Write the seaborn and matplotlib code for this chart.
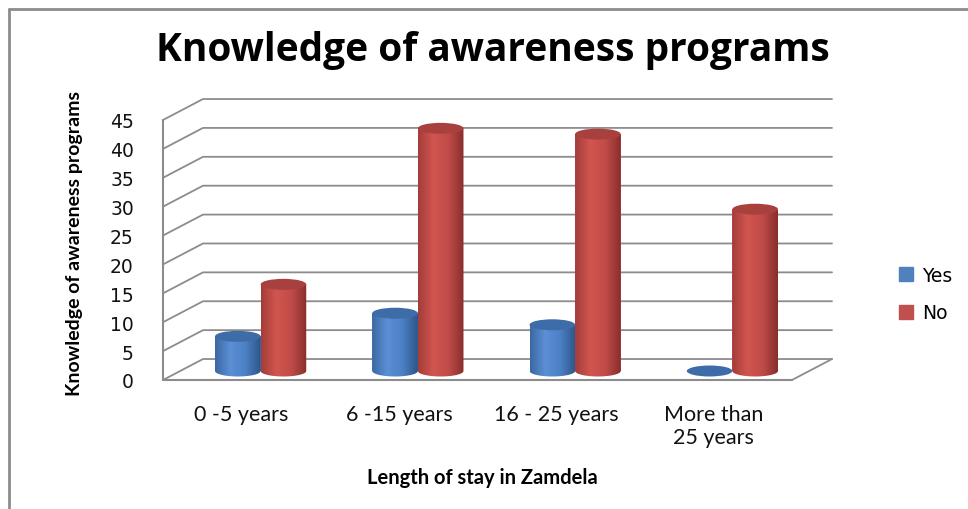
#!/usr/bin/env python3
"""
Knowledge of awareness programs by length of stay in Zamdela
(3D-cylinder look imitated on a flat seaborn barplot)
"""

import numpy as np
import pandas as pd
import matplotlib
matplotlib.use("Agg")
import matplotlib.pyplot as plt
import matplotlib.transforms as mtransforms
from matplotlib.colors import LinearSegmentedColormap
from matplotlib.patches import Ellipse, Polygon
import seaborn as sns

# Data
categories = ["0 -5 years", "6 -15 years", "16 - 25 years", "More than\n25 years"]
yes_values = [6, 10, 8, 0]
no_values = [15, 42, 41, 28]
series = ["Yes", "No"]

colors = {"Yes": "#4F81BD", "No": "#C0504D"}
cap_colors = {"Yes": "#3D6CA8", "No": "#A8413E"}
grad_stops = {
    "Yes": ["#3A68A2", "#5B8FD6", "#4C80C4", "#2C5588"],
    "No": ["#A23D3A", "#D2554F", "#C04B48", "#872E2C"],
}

sns.set_style("white")
plt.rcParams["text.color"] = "black"

df = pd.DataFrame({
    "stay": categories * 2,
    "answer": ["Yes"] * 4 + ["No"] * 4,
    "count": yes_values + no_values,
})

fig = plt.figure(figsize=(9.68, 5.10), dpi=100)
ax = fig.add_axes([163 / 968, 1 - 381 / 510, 629 / 968, 260 / 510])

sns.barplot(data=df, x="stay", y="count", hue="answer", hue_order=series,
            palette=colors, width=0.58, saturation=1, ax=ax, legend=False,
            linewidth=0, zorder=3)

ax.set_xlim(-0.5, 3.5)
ax.set_ylim(0, 45)

# 3D-ish depth offsets (wall behind plot)
grid_col = "#8C8C8C"
dx, dy = 0.2544, 3.63
for t in range(0, 50, 5):
    ax.plot([-0.5, -0.5 + dx, 3.5 + dx], [t, t + dy, t + dy], color=grid_col,
            lw=1.3, clip_on=False, zorder=1)
ax.plot([3.5, 3.5 + dx], [0, dy], color=grid_col, lw=1.3, clip_on=False, zorder=1)
ax.plot([-0.5, 3.5], [0, 0], color=grid_col, lw=1.5, clip_on=False, zorder=2)
ax.plot([-0.5, -0.5], [0, 45], color=grid_col, lw=1.5, clip_on=False, zorder=2)

for s in ax.spines.values():
    s.set_visible(False)

ax.set_yticks(range(0, 50, 5))
ax.tick_params(axis="y", length=7, width=1.3, color=grid_col, pad=14,
               labelsize=13.5, labelcolor="#111111")
ax.set_xticks(range(4))
ax.set_xticklabels(categories, fontfamily="Lato", fontsize=15.5, linespacing=1.2)
ax.set_xticks([-0.5, 0.5, 1.5, 2.5, 3.5], minor=True)
ax.tick_params(axis="x", which="major", length=0, pad=17, labelcolor="#111111")
ax.tick_params(axis="x", which="minor", length=7, width=1.3, color=grid_col)
ax.set_xlabel("")
ax.set_ylabel("")

# cylinders sit half-way into the depth
off = mtransforms.Affine2D().translate(19, 9)
trans = ax.transData + off
cap_h = 1.9

for container, name in zip(ax.containers, series):
    cmap = LinearSegmentedColormap.from_list(name, grad_stops[name])
    for bar in container:
        bar.set_transform(trans)
        x0, w, h = bar.get_x(), bar.get_width(), bar.get_height()
        cx = x0 + w / 2
        if h > 0:
            ang = np.linspace(0, np.pi, 30)
            bottom = np.column_stack([cx + w / 2 * np.cos(ang),
                                      -cap_h / 2 * np.sin(ang)])
            verts = np.vstack([[x0, h], [x0 + w, h], bottom])
            clip = Polygon(verts, closed=True, transform=trans,
                           facecolor="none", edgecolor="none")
            ax.add_patch(clip)
            im = ax.imshow(np.linspace(0, 1, 256)[None, :], cmap=cmap,
                           aspect="auto", extent=(x0, x0 + w, -cap_h, h),
                           transform=trans, zorder=4, interpolation="bilinear")
            im.set_clip_path(clip)
        cap = Ellipse((cx, h), w, cap_h, transform=trans,
                      facecolor=cap_colors[name], edgecolor="none", zorder=5)
        ax.add_patch(cap)

ax.set_xlim(-0.5, 3.5)
ax.set_ylim(0, 45)

# legend
handles = [plt.Rectangle((0, 0), 1, 1, color=colors[s]) for s in series]
fig.legend(handles, series, loc="center left",
           bbox_to_anchor=(886 / 968, 1 - 295 / 510), frameon=False,
           fontsize=13.5, handlelength=0.75, handleheight=0.75,
           handletextpad=0.45, labelspacing=1.0, borderpad=0.2)

# titles
fig.text(493 / 968, 1 - 50 / 510, "Knowledge of awareness programs",
         ha="center", va="center", fontsize=28, fontweight="bold",
         fontfamily="Open Sans", color="black")
fig.text(75 / 968, 1 - 244 / 510, "Knowledge of awareness programs",
         ha="center", va="center", rotation=90, fontsize=14,
         fontweight="bold", fontfamily=["Liberation Sans Narrow", "Lato"],
         color="black")
fig.text(482 / 968, 1 - 478 / 510, "Length of stay in Zamdela",
         ha="center", va="center", fontsize=14.5, fontweight="bold",
         fontfamily="Lato", color="black")

# outer frame (top and left edges)
fig.add_artist(plt.Line2D([9 / 968, 9 / 968], [0, 1 - 10 / 510],
                          color=grid_col, lw=2))
fig.add_artist(plt.Line2D([9 / 968, 1], [1 - 10 / 510, 1 - 10 / 510],
                          color=grid_col, lw=2))

fig.savefig("out.png", dpi=100)
